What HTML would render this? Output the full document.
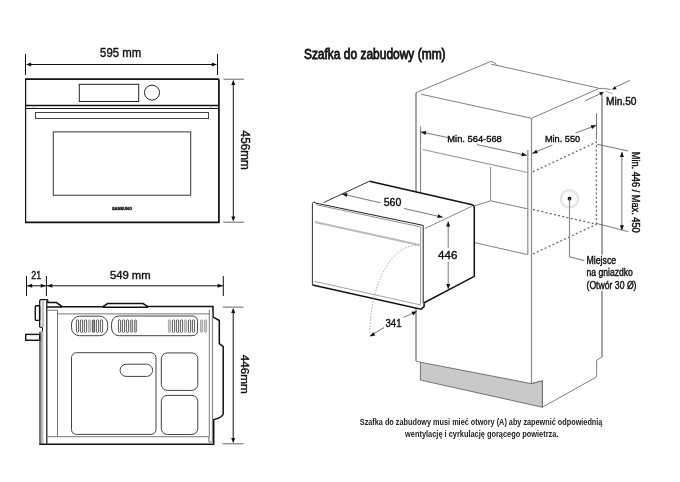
<!DOCTYPE html>
<html><head><meta charset="utf-8">
<style>
html,body{margin:0;padding:0;background:#fff;overflow:hidden;}
svg{display:block;will-change:transform;}
text{font-family:"Liberation Sans",sans-serif;}
</style></head><body>
<svg width="680" height="482" viewBox="0 0 680 482">
<rect x="0" y="0" width="680" height="482" fill="#fff"/>
<path d="M25.50,54.00 L25.50,75.00" stroke="#111" stroke-width="1" fill="none" />
<path d="M217.50,54.00 L217.50,75.00" stroke="#111" stroke-width="1" fill="none" />
<path d="M30.00,64.50 L213.00,64.50" stroke="#111" stroke-width="1" fill="none" />
<path d="M26.00,64.50 L31.20,62.50 L31.20,66.50Z" fill="#111"/>
<path d="M217.00,64.50 L211.80,66.50 L211.80,62.50Z" fill="#111"/>
<text x="100.1" y="56.8" font-size="12" textLength="41" lengthAdjust="spacingAndGlyphs" style="fill:#111" stroke="#111" stroke-width="0.4">595 mm</text>
<line x1="25.6" y1="79" x2="25.6" y2="222.4" stroke="#111" stroke-width="1.2"/>
<path d="M25,79.1 H217.8 Q218.9,79.1 218.9,80.2 V222.4 H25" stroke="#111" stroke-width="1.75" fill="none"/>
<rect x="79.3" y="84.3" width="59.4" height="17.2" fill="none" stroke="#222" stroke-width="1"/>
<circle cx="152" cy="92.6" r="7.5" fill="none" stroke="#222" stroke-width="1"/>
<path d="M25.60,105.50 L218.90,105.50" stroke="#111" stroke-width="1.3" fill="none" />
<path d="M25.60,108.50 L218.90,108.50" stroke="#111" stroke-width="1" fill="none" />
<path d="M33.70,105.50 L33.70,108.50" stroke="#777" stroke-width="0.8" fill="none" />
<path d="M210.60,105.50 L210.60,108.50" stroke="#777" stroke-width="0.8" fill="none" />
<rect x="35.5" y="112.5" width="173" height="6" fill="none" stroke="#444" stroke-width="1"/>
<rect x="53.3" y="131.9" width="137.4" height="63.3" fill="none" stroke="#333" stroke-width="1"/>
<text x="112" y="210.1" font-size="4.4" font-weight="bold" textLength="20" lengthAdjust="spacingAndGlyphs" style="fill:#111" stroke="#111" stroke-width="0.35">SAMSUNG</text>
<path d="M223.50,79.20 L244.00,79.20" stroke="#666" stroke-width="1" fill="none" />
<path d="M223.20,222.20 L244.00,222.20" stroke="#666" stroke-width="1" fill="none" />
<path d="M233.30,84.00 L233.30,217.00" stroke="#111" stroke-width="1" fill="none" />
<path d="M233.30,79.80 L235.30,85.00 L231.30,85.00Z" fill="#111"/>
<path d="M233.30,221.60 L231.30,216.40 L235.30,216.40Z" fill="#111"/>
<text transform="translate(241,130.6) rotate(90)" font-size="12" textLength="39.2" lengthAdjust="spacingAndGlyphs" style="fill:#111" stroke="#111" stroke-width="0.4">456mm</text>
<path d="M26.50,276.00 L26.50,296.00" stroke="#111" stroke-width="1" fill="none" />
<path d="M46.40,276.00 L46.40,296.00" stroke="#111" stroke-width="1" fill="none" />
<path d="M223.30,276.00 L223.30,296.00" stroke="#111" stroke-width="1" fill="none" />
<path d="M27.00,285.80 L223.00,285.80" stroke="#111" stroke-width="1" fill="none" />
<path d="M27.00,285.80 L32.20,283.80 L32.20,287.80Z" fill="#111"/>
<path d="M45.90,285.80 L40.70,287.80 L40.70,283.80Z" fill="#111"/>
<path d="M47.10,285.80 L52.30,283.80 L52.30,287.80Z" fill="#111"/>
<path d="M222.80,285.80 L217.60,287.80 L217.60,283.80Z" fill="#111"/>
<text x="31.2" y="278.5" font-size="11.6" textLength="10" lengthAdjust="spacingAndGlyphs" style="fill:#111" stroke="#111" stroke-width="0.4">21</text>
<text x="109.9" y="278.8" font-size="11.6" textLength="40.8" lengthAdjust="spacingAndGlyphs" style="fill:#111" stroke="#111" stroke-width="0.4">549 mm</text>
<defs><linearGradient id="pg" x1="0" x2="1" y1="0" y2="0"><stop offset="0" stop-color="#8f8f8f"/><stop offset="1" stop-color="#dadada"/></linearGradient></defs>
<rect x="41.6" y="300.6" width="2.5" height="26.5" fill="#c4c4c4"/>
<rect x="40.3" y="331.5" width="3.4" height="112" fill="url(#pg)"/>
<path d="M39.7,327.3 V300.8 Q39.7,299.6 41,299.6 H47.4 Q47.8,299.6 47.8,300.6 V302.6" stroke="#111" stroke-width="1.3" fill="none"/>
<path d="M39.7,327.3 H41.6 Q42.6,327.3 42.5,329.5 L42.2,331.5" stroke="#111" stroke-width="1.1" fill="none"/>
<path d="M46.8,300.5 V444.2" stroke="#111" stroke-width="1.2" fill="none"/>
<path d="M39.9,331.5 V444.2" stroke="#222" stroke-width="1" fill="none"/>
<rect x="35.3" y="305.8" width="4.3" height="14.6" rx="1" fill="#fff" stroke="#111" stroke-width="1.4"/>
<rect x="25.7" y="334.4" width="14" height="5.9" fill="#fff" stroke="#111" stroke-width="1.4"/>
<path d="M47.3,302.6 H56.4 L62.2,306.7 M46.9,307 H62.2 M62,306.7 H103 M103,307.3 H148 M103,306.7 L107.6,303.6 H143 L147.8,306.6 H213 V316.8 L219.3,320.5 V343.6 L223.2,346.7 V413.7 Q223.2,417 213.7,419.6 V444.2 H39.3" stroke="#111" stroke-width="1.5" fill="none"/>
<g stroke="#777" stroke-width="1" fill="none">
  <path d="M47,310.2 H57.5 V436.7"/>
  <path d="M57.5,313.9 H209.3"/>
  <path d="M47,436.7 H209.3 V310"/>
  <path d="M212.4,312 V442 H208.8 V436.7"/>
 </g>
<rect x="71.5" y="316.2" width="36.2" height="19.5" rx="8" fill="none" stroke="#444" stroke-width="1"/>
<path d="M119.4,316 H192 Q197.5,316 197.5,321.5 V330.2 Q197.5,335.7 192,335.7 H119.4 Q111.4,335.7 111.4,325.85 Q111.4,316 119.4,316 Z" fill="none" stroke="#444" stroke-width="1"/>
<rect x="76.40" y="319.8" width="2.2" height="12.6" rx="1.1" fill="#fff" stroke="#333" stroke-width="0.8"/>
<rect x="80.40" y="319.8" width="2.2" height="12.6" rx="1.1" fill="#fff" stroke="#333" stroke-width="0.8"/>
<rect x="84.40" y="319.8" width="2.2" height="12.6" rx="1.1" fill="#fff" stroke="#333" stroke-width="0.8"/>
<rect x="88.40" y="319.8" width="2.2" height="12.6" rx="1.1" fill="#ccc" stroke="#999" stroke-width="0.8"/>
<rect x="92.40" y="319.8" width="2.2" height="12.6" rx="1.1" fill="#999" stroke="#333" stroke-width="0.8"/>
<rect x="96.40" y="319.8" width="2.2" height="12.6" rx="1.1" fill="#fff" stroke="#333" stroke-width="0.8"/>
<rect x="100.40" y="319.8" width="2.2" height="12.6" rx="1.1" fill="#fff" stroke="#333" stroke-width="0.8"/>
<rect x="118.40" y="319.8" width="2.2" height="12.6" rx="1.1" fill="#fff" stroke="#333" stroke-width="0.8"/>
<rect x="122.40" y="319.8" width="2.2" height="12.6" rx="1.1" fill="#fff" stroke="#333" stroke-width="0.8"/>
<rect x="126.40" y="319.8" width="2.2" height="12.6" rx="1.1" fill="#fff" stroke="#333" stroke-width="0.8"/>
<rect x="130.40" y="319.8" width="2.2" height="12.6" rx="1.1" fill="#bbb" stroke="#666" stroke-width="0.8"/>
<rect x="134.40" y="319.8" width="2.2" height="12.6" rx="1.1" fill="#bbb" stroke="#666" stroke-width="0.8"/>
<rect x="168.40" y="319.8" width="2.2" height="12.6" rx="1.1" fill="#ccc" stroke="#999" stroke-width="0.8"/>
<rect x="172.40" y="319.8" width="2.2" height="12.6" rx="1.1" fill="#fff" stroke="#333" stroke-width="0.8"/>
<rect x="176.40" y="319.8" width="2.2" height="12.6" rx="1.1" fill="#fff" stroke="#333" stroke-width="0.8"/>
<rect x="180.40" y="319.8" width="2.2" height="12.6" rx="1.1" fill="#fff" stroke="#333" stroke-width="0.8"/>
<rect x="184.40" y="319.8" width="2.2" height="12.6" rx="1.1" fill="#ccc" stroke="#999" stroke-width="0.8"/>
<rect x="188.40" y="319.8" width="2.2" height="12.6" rx="1.1" fill="#fff" stroke="#333" stroke-width="0.8"/>
<rect x="192.40" y="319.8" width="2.2" height="12.6" rx="1.1" fill="#fff" stroke="#333" stroke-width="0.8"/>
<rect x="200.40" y="319.8" width="2.2" height="12.6" rx="1.1" fill="#c8c8c8" stroke="#999" stroke-width="0.8"/>
<rect x="204.40" y="319.8" width="2.2" height="12.6" rx="1.1" fill="#c8c8c8" stroke="#999" stroke-width="0.8"/>
<g stroke="#444" stroke-width="1" fill="none">
  <rect x="71.5" y="352.7" width="84.5" height="81.7" rx="5"/>
  <rect x="120.1" y="364.2" width="32.5" height="12.2" rx="6"/>
  <rect x="161.3" y="352.9" width="36.5" height="37.5" rx="6"/>
  <rect x="161.3" y="395.4" width="36.5" height="39.1" rx="6"/>
 </g>
<path d="M223.00,307.10 L243.50,307.10" stroke="#666" stroke-width="1" fill="none" />
<path d="M222.60,443.80 L243.50,443.80" stroke="#666" stroke-width="1" fill="none" />
<path d="M233.20,312.00 L233.20,439.00" stroke="#111" stroke-width="1" fill="none" />
<path d="M233.20,307.70 L235.20,312.90 L231.20,312.90Z" fill="#111"/>
<path d="M233.20,443.20 L231.20,438.00 L235.20,438.00Z" fill="#111"/>
<text transform="translate(241,354.7) rotate(90)" font-size="10.8" textLength="39.1" lengthAdjust="spacingAndGlyphs" style="fill:#111" stroke="#111" stroke-width="0.4">446mm</text>
<text x="303.9" y="58.8" font-size="14.2" textLength="141.7" lengthAdjust="spacingAndGlyphs" style="fill:#111" stroke="#111" stroke-width="0.8">Szafka do zabudowy (mm)</text>
<path d="M416.00,361.00 L416.00,92.70" stroke="#a5a5a5" stroke-width="2" fill="none" />
<path d="M416.00,92.70 L490.80,61.40 L495.50,63.10 L496.50,65.30 L598.80,88.20" stroke="#808080" stroke-width="1" fill="none" />
<path d="M491.20,64.30 L496.50,65.30" stroke="#808080" stroke-width="1" fill="none" />
<path d="M421.00,94.20 L531.50,118.30 L598.80,88.60 L603.20,88.30 L610.90,89.50" stroke="#808080" stroke-width="1" fill="none" />
<path d="M605.60,91.20 L612.60,93.60" stroke="#999" stroke-width="0.9" fill="none" />
<path d="M531.50,118.30 L531.50,383.70" stroke="#888" stroke-width="1.2" fill="none" />
<path d="M531.50,383.70 L542.40,380.80 L542.40,407.20" stroke="#808080" stroke-width="1" fill="none" />
<path d="M602.00,93.50 L602.00,254.70" stroke="#a5a5a5" stroke-width="2" fill="none" />
<path d="M602.00,290.70 L602.00,357.00" stroke="#a5a5a5" stroke-width="2" fill="none" />
<path d="M602.00,357.00 L596.60,360.20 L596.60,376.90 L542.40,407.20" stroke="#808080" stroke-width="1" fill="none" />
<path d="M416.00,361.00 L420.40,362.20" stroke="#808080" stroke-width="1" fill="none" />
<path d="M422.50,149.50 L527.60,172.50" stroke="#999" stroke-width="1.1" fill="none" />
<path d="M420.50,126.50 L420.50,200.00" stroke="#8a8a8a" stroke-width="1.2" fill="none" />
<path d="M527.80,150.00 L527.80,254.60" stroke="#999" stroke-width="1.4" fill="none" />
<path d="M490.60,166.70 L490.60,200.80" stroke="#999" stroke-width="1.1" fill="none" />
<path d="M490.60,200.80 L527.40,208.80" stroke="#808080" stroke-width="1" fill="none" />
<path d="M490.60,200.80 L474.40,205.90" stroke="#808080" stroke-width="1" fill="none" />
<path d="M474.40,242.60 L527.60,254.60" stroke="#808080" stroke-width="1" fill="none" />
<path d="M420.4,362.2 L531.6,383.7 L542.4,380.8 V407.2 L420.4,380.1 Z" fill="#c9c9c9" stroke="#555" stroke-width="0.8"/>
<g stroke="#6a6a6a" stroke-width="1.3" fill="none" stroke-dasharray="2,2.3">
  <path d="M533,171.8 L596.4,142.1 V224.3"/>
  <path d="M533,209.5 L596.4,224.3"/>
  <path d="M533,254 L596.4,224.3"/>
 </g>
<path d="M585.30,100.60 L600.00,93.90" stroke="#555" stroke-width="0.8" fill="none" />
<path d="M616.20,86.80 L630.00,80.40" stroke="#555" stroke-width="0.8" fill="none" />
<path d="M604.00,92.00 L600.64,95.44 L599.20,92.36Z" fill="#111"/>
<path d="M611.80,89.60 L615.10,86.10 L616.59,89.16Z" fill="#111"/>
<text x="605.9" y="104.7" font-size="10" textLength="30.6" lengthAdjust="spacingAndGlyphs" style="fill:#111" stroke="#111" stroke-width="0.4">Min.50</text>
<path d="M420.50,131.80 L448.20,137.60" stroke="#555" stroke-width="0.8" fill="none" />
<path d="M476.90,144.60 L527.00,155.50" stroke="#555" stroke-width="0.8" fill="none" />
<path d="M420.80,131.90 L426.31,131.05 L425.46,134.96Z" fill="#111"/>
<path d="M526.80,155.40 L521.30,156.27 L522.13,152.35Z" fill="#111"/>
<text x="447.3" y="141.8" font-size="9.6" textLength="54.5" lengthAdjust="spacingAndGlyphs" style="fill:#111" stroke="#111" stroke-width="0.4">Min. 564-568</text>
<path d="M596.50,113.20 L596.50,139.70" stroke="#555" stroke-width="0.8" fill="none" />
<path d="M575.60,133.10 L596.50,125.10" stroke="#555" stroke-width="0.8" fill="none" />
<path d="M531.90,153.60 L552.40,145.00" stroke="#555" stroke-width="0.8" fill="none" />
<path d="M596.20,125.20 L592.06,128.93 L590.63,125.20Z" fill="#111"/>
<path d="M532.20,153.50 L536.24,149.66 L537.77,153.36Z" fill="#111"/>
<text x="544.9" y="141.7" font-size="9.6" textLength="35.3" lengthAdjust="spacingAndGlyphs" style="fill:#111" stroke="#111" stroke-width="0.4">Min. 550</text>
<path d="M597.00,144.20 L628.10,151.00" stroke="#555" stroke-width="0.8" fill="none" />
<path d="M597.00,223.60 L628.10,231.60" stroke="#555" stroke-width="0.8" fill="none" />
<path d="M621.90,152.00 L621.90,230.30" stroke="#555" stroke-width="0.8" fill="none" />
<path d="M621.90,151.70 L623.90,156.90 L619.90,156.90Z" fill="#111"/>
<path d="M621.90,230.50 L619.90,225.30 L623.90,225.30Z" fill="#111"/>
<text transform="translate(632,151.7) rotate(90)" font-size="10.2" textLength="81" lengthAdjust="spacingAndGlyphs" style="fill:#111" stroke="#111" stroke-width="0.4">Min. 446 / Max. 450</text>
<circle cx="569.5" cy="198.7" r="8.6" fill="none" stroke="#e4e4e4" stroke-width="2.4"/>
<circle cx="569.5" cy="198.7" r="1.9" fill="#111"/>
<path d="M569.50,198.70 L569.50,256.90 L584.30,260.60" stroke="#888" stroke-width="1.1" fill="none" />
<text x="586.5" y="263.8" font-size="10" textLength="29.7" lengthAdjust="spacingAndGlyphs" style="fill:#111" stroke="#111" stroke-width="0.4">Miejsce</text>
<text x="586.5" y="276" font-size="10" textLength="46.3" lengthAdjust="spacingAndGlyphs" style="fill:#111" stroke="#111" stroke-width="0.4">na gniazdko</text>
<text x="586.5" y="288.5" font-size="10" textLength="50" lengthAdjust="spacingAndGlyphs" style="fill:#111" stroke="#111" stroke-width="0.4">(Otwór 30 Ø)</text>
<path d="M312.4,202.2 L323.6,202.6 L369.5,181.2 L472.3,204.8 Q474.3,205.3 474.3,207.5 V276.4 L424.1,302.8 V306.6 L421,309.2 L312.6,285.1 Z" fill="#fff" stroke="none"/>
<path d="M312.4,285.1 V203.6 Q312.4,201.5 315,202.3" stroke="#333" stroke-width="1" fill="none"/>
<path d="M323.60,202.60 L369.50,181.20" stroke="#333" stroke-width="1" fill="none" />
<path d="M369.5,181.2 L472.3,204.8 Q474.3,205.3 474.3,207.5 V276.4 L424.1,302.8 V306.6 L421,309.2 L312.6,285.1" stroke="#111" stroke-width="1.5" fill="none"/>
<path d="M424.90,228.50 L471.80,206.30" stroke="#888" stroke-width="1" fill="none" />
<path d="M314.80,202.90 L423.20,225.40 L423.20,303.00" stroke="#222" stroke-width="1" fill="none" />
<path d="M316.00,204.70 L420.60,226.90 L420.60,304.90" stroke="#777" stroke-width="0.8" fill="none" />
<path d="M314.80,222.10 L420.60,245.20" stroke="#bbb" stroke-width="2" fill="none" />
<path d="M314.60,281.40 L420.30,304.90" stroke="#999" stroke-width="0.9" fill="none" />
<path d="M342.00,193.90 L380.40,202.80" stroke="#555" stroke-width="0.8" fill="none" />
<path d="M404.10,208.50 L442.80,217.30" stroke="#555" stroke-width="0.8" fill="none" />
<path d="M342.00,193.90 L347.51,193.10 L346.63,197.00Z" fill="#111"/>
<path d="M442.80,217.30 L437.28,218.08 L438.18,214.18Z" fill="#111"/>
<text x="383.7" y="206.2" font-size="11" textLength="17.6" lengthAdjust="spacingAndGlyphs" style="fill:#111" stroke="#111" stroke-width="0.4">560</text>
<path d="M448.20,221.50 L448.20,248.00" stroke="#555" stroke-width="0.8" fill="none" />
<path d="M448.20,262.00 L448.20,288.80" stroke="#555" stroke-width="0.8" fill="none" />
<path d="M448.20,221.30 L450.20,226.50 L446.20,226.50Z" fill="#111"/>
<path d="M448.20,289.10 L446.20,283.90 L450.20,283.90Z" fill="#111"/>
<text x="438.1" y="259.4" font-size="11.5" textLength="19.3" lengthAdjust="spacingAndGlyphs" style="fill:#111" stroke="#111" stroke-width="0.4">446</text>
<path d="M415.6,245.4 A46.6,89.6 0 0 0 369.8,334.8" stroke="#999" stroke-width="0.9" fill="none" stroke-dasharray="1.5,1.5"/>
<path d="M369.80,335.90 L384.00,327.60" stroke="#555" stroke-width="0.8" fill="none" />
<path d="M403.60,317.30 L414.00,312.60" stroke="#555" stroke-width="0.8" fill="none" />
<path d="M369.80,336.40 L373.33,332.09 L375.31,335.57Z" fill="#111"/>
<path d="M417.00,311.30 L413.27,315.44 L411.46,311.87Z" fill="#111"/>
<text x="385.5" y="327.4" font-size="11" textLength="16" lengthAdjust="spacingAndGlyphs" style="fill:#111" stroke="#111" stroke-width="0.4">341</text>
<path d="M416.00,313.50 L416.00,361.00" stroke="#a5a5a5" stroke-width="2" fill="none" />
<text x="359.8" y="425.4" font-size="8.2" font-weight="bold" textLength="242.6" lengthAdjust="spacingAndGlyphs" style="fill:#222" >Szafka do zabudowy musi mieć otwory (A) aby zapewnić odpowiednią</text>
<text x="405.1" y="436.9" font-size="8.2" font-weight="bold" textLength="153.3" lengthAdjust="spacingAndGlyphs" style="fill:#222" >wentylację i cyrkulację gorącego powietrza.</text>
</svg>
</body></html>
